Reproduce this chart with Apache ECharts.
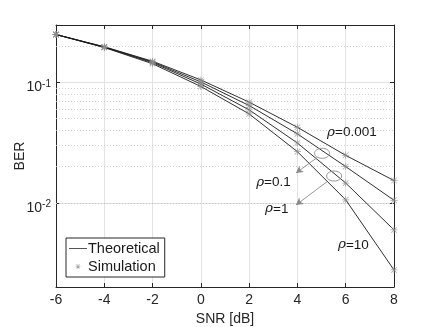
<!DOCTYPE html>
<html>
<head>
<meta charset="utf-8">
<script src="https://cdn.jsdelivr.net/npm/echarts@6/dist/echarts.min.js"></script>
<style>
  html, body { margin: 0; background: #fff; }
  #main { width: 436px; height: 327px; }
</style>
</head>
<body>
<div id="main"></div>
<script>
  // SNR points (dB)
  var snr = [-6, -4, -2, 0, 2, 4, 6, 8];
  // BER, one list per rho
  var berRho0001 = [0.250, 0.198, 0.150, 0.105, 0.0686, 0.0424, 0.0248, 0.0153];
  var berRho01 = [0.250, 0.197, 0.148, 0.101, 0.0643, 0.0374, 0.0200, 0.0105];
  var berRho1 = [0.250, 0.196, 0.146, 0.097, 0.0592, 0.0314, 0.0146, 0.00596];
  var berRho10 = [0.250, 0.195, 0.143, 0.0926, 0.0548, 0.0266, 0.0106, 0.00277];
  var curves = [berRho0001, berRho01, berRho1, berRho10];
  // dotted minor grid (log axis)
  var minorTicks = [0.003, 0.004, 0.005, 0.006, 0.007, 0.008, 0.009,
    0.02, 0.03, 0.04, 0.05, 0.06, 0.07, 0.08, 0.09, 0.2];
  // annotations, in data coordinates
  var rhoLabels = [
    { text: '0.001', x: 5.23, y: 0.0383 },
    { text: '0.1', x: 2.29, y: 0.0147 },
    { text: '1', x: 2.66, y: 0.00891 },
    { text: '10', x: 5.68, y: 0.00447 }
  ];
  var ellipses = [[5.02, 0.0258], [5.52, 0.0167]];
  var arrows = [
    [[4.81, 0.0237], [3.94, 0.0177]],
    [[5.23, 0.0150], [3.94, 0.0096]]
  ];

  var starBody = 'M4.5 0L5.5 0L5.5 10L4.5 10Z M0 4.5L10 4.5L10 5.5L0 5.5Z ' +
    'M0.7 1.4L1.4 0.7L9.3 8.6L8.6 9.3Z M8.6 0.7L9.3 1.4L1.4 9.3L0.7 8.6Z';
  var star = 'path://' + starBody;
  var legendStar = 'path://M-2 -2 M12 12 ' + starBody;
  var dash = 'path://M0 0L18 0L18 1L0 1Z';

  var axisColor = '#262626';
  var myChart = echarts.init(document.getElementById('main'));

  var series = [];
  curves.forEach(function (vals, k) {
    var pts = snr.map(function (x, i) { return [x, vals[i]]; });
    var line = {
      name: 'Theoretical',
      type: 'line',
      data: pts,
      symbol: 'none',
      lineStyle: { color: '#1a1a1a', width: 0.9 },
      itemStyle: { color: '#1a1a1a' },
      z: 3
    };
    if (k === 0) {
      line.markLine = {
        silent: true,
        symbol: ['none', 'none'],
        label: { show: false },
        lineStyle: { type: [1, 2], color: '#c4c4c4', width: 0.8 },
        data: minorTicks.map(function (v) { return { yAxis: v }; }),
        z: 1
      };
    }
    if (k === 1) {
      line.markLine = {
        silent: true,
        symbol: ['none', 'arrow'],
        symbolSize: [6, 7],
        label: { show: false },
        lineStyle: { type: 'solid', color: '#8a8a8a', width: 0.9 },
        data: arrows.map(function (a) {
          return [{ coord: a[0] }, { coord: a[1] }];
        })
      };
    }
    series.push(line);
    series.push({
      name: 'Simulation',
      type: 'scatter',
      data: pts,
      symbol: star,
      symbolSize: 7,
      itemStyle: { color: '#8c8c8c' },
      z: 4
    });
  });

  var option = {
    animation: false,
    backgroundColor: '#fff',
    textStyle: { fontFamily: 'Liberation Sans, Arial, sans-serif' },
    grid: { left: 56, right: 42, top: 25, bottom: 40, containLabel: false, outerBoundsMode: 'none' },
    legend: {
      orient: 'vertical',
      left: 66,
      top: 238,
      backgroundColor: '#fff',
      borderColor: axisColor,
      borderWidth: 1,
      borderRadius: 0,
      padding: [3, 5, 3, 3],
      itemGap: 3,
      itemWidth: 18,
      itemHeight: 7,
      textStyle: { fontSize: 14.5, color: '#1a1a1a', padding: [0, 0, 0, -4] },
      data: [
        { name: 'Theoretical', icon: dash, itemStyle: { color: '#555' } },
        { name: 'Simulation', icon: legendStar }
      ]
    },
    xAxis: [{
      type: 'value',
      min: -6, max: 8, interval: 2,
      name: 'SNR [dB]',
      nameLocation: 'middle',
      nameGap: 23,
      nameTextStyle: { fontSize: 14, color: axisColor },
      axisLine: { onZero: false, lineStyle: { color: axisColor } },
      axisTick: { inside: true, length: 4, lineStyle: { color: axisColor } },
      axisLabel: { fontSize: 14, color: axisColor, margin: 6 },
      splitLine: { lineStyle: { color: '#e3e3e3' } }
    }, {
      type: 'value', position: 'top',
      min: -6, max: 8, interval: 2,
      axisLine: { onZero: false, lineStyle: { color: axisColor } },
      axisTick: { inside: true, length: 4, lineStyle: { color: axisColor } },
      axisLabel: { show: false },
      splitLine: { show: false }
    }],
    yAxis: [{
      type: 'log',
      logBase: 10,
      min: 0.002, max: 0.3,
      splitNumber: 2,
      name: 'BER',
      nameLocation: 'middle',
      nameGap: 29,
      nameMoveOverlap: false,
      nameTextStyle: { fontSize: 14, color: axisColor },
      axisLine: { show: true, onZero: false, lineStyle: { color: axisColor } },
      axisTick: { inside: true, length: 4, lineStyle: { color: axisColor } },
      axisLabel: {
        fontSize: 14, color: axisColor, margin: 5,
        padding: [10, 0, 0, 0],
        showMinLabel: false, showMaxLabel: false,
        formatter: function (v) {
          var e = Math.log10(v);
          if (Math.abs(e - Math.round(e)) < 1e-6) return '10{sup|' + Math.round(e) + '}';
          return '';
        },
        rich: { sup: { fontSize: 10, verticalAlign: 'top', padding: [0, 0, 7, 0], color: axisColor } }
      },
      splitLine: { lineStyle: { color: '#e3e3e3' } }
    }, {
      type: 'log', position: 'right',
      logBase: 10,
      min: 0.002, max: 0.3,
      splitNumber: 2,
      axisLine: { show: true, onZero: false, lineStyle: { color: axisColor } },
      axisTick: { inside: true, length: 4, lineStyle: { color: axisColor } },
      axisLabel: { show: false },
      splitLine: { show: false }
    }],
    series: series
  };
  myChart.setOption(option);

  var graphics = [];
  ellipses.forEach(function (c) {
    var p = myChart.convertToPixel({ gridIndex: 0 }, c);
    graphics.push({
      type: 'ellipse',
      shape: { cx: p[0], cy: p[1], rx: 7.5, ry: 5 },
      style: { fill: 'none', stroke: '#8a8a8a', lineWidth: 0.9 },
      z: 10
    });
  });
  rhoLabels.forEach(function (l) {
    var p = myChart.convertToPixel({ gridIndex: 0 }, [l.x, l.y]);
    graphics.push({
      type: 'text',
      x: p[0], y: p[1],
      style: {
        text: '{i|ρ}=' + l.text,
        fill: '#1a1a1a',
        font: '13.5px Liberation Sans, Arial, sans-serif',
        verticalAlign: 'middle',
        rich: { i: { fontStyle: 'italic', fontSize: 13.5, fontFamily: 'DejaVu Serif', fill: '#1a1a1a' } }
      },
      z: 10
    });
  });
  myChart.setOption({ graphic: graphics });
</script>
</body>
</html>
